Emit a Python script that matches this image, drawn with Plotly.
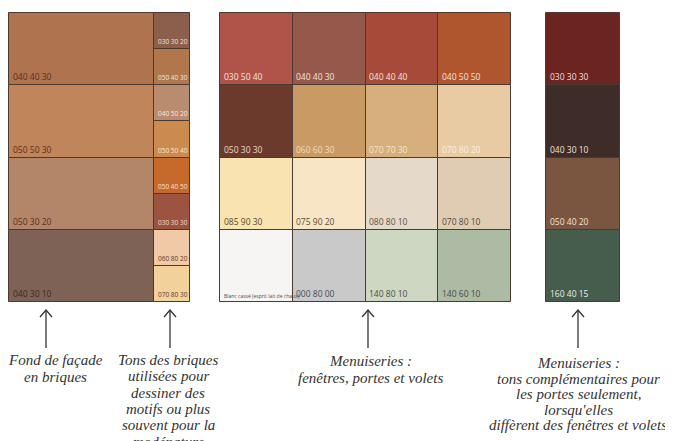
import plotly.graph_objects as go

# Palette data: swatch codes, colours and label colours per column (top to bottom)
facade_codes = ["040 40 30", "050 50 30", "050 30 20", "040 30 10"]
facade_colors = ["#B07350", "#C0855A", "#B3866A", "#7E6256"]
facade_text = ["#5A2E1C", "#5A2E1C", "#5A2E1C", "#3A2A22"]

brick_codes = ["030 30 20", "050 40 30", "040 50 20", "050 50 40",
               "050 40 50", "030 30 30", "060 80 20", "070 80 30"]
brick_colors = ["#8C5E4C", "#B0774C", "#B98C70", "#CC8B4E",
                "#C56A2A", "#9C5340", "#F0C9A6", "#F2D19A"]
brick_text = ["#F2E2D8", "#F7E8D0", "#F7E8DC", "#F9E6C8",
              "#F9E2C8", "#F2DCD0", "#5A4030", "#5A4030"]

joinery_codes = [
    ["030 50 40", "050 30 30", "085 90 30", "Blanc cassé (esprit lait de chaux)"],
    ["040 40 30", "060 60 30", "075 90 20", "000 80 00"],
    ["040 40 40", "070 70 30", "080 80 10", "140 80 10"],
    ["040 50 50", "070 80 20", "070 80 10", "140 60 10"],
]
joinery_colors = [
    ["#B0544A", "#6C3A2C", "#F9E3B0", "#F7F5F4"],
    ["#94594A", "#C99A64", "#F8E5C6", "#C9C9C9"],
    ["#A84A3A", "#D6AF7C", "#E5D9C9", "#CED7C2"],
    ["#B0562E", "#E8CBA2", "#DFCCB2", "#AEBBA4"],
]
joinery_text = [
    ["#F5E2DC", "#EAD8D0", "#5A4A2A", "#4A4A4A"],
    ["#F5E2DC", "#F3DDBE", "#5A4A34", "#4A4A4A"],
    ["#F5E2DC", "#F6E6CC", "#5A5048", "#4A4A4A"],
    ["#F5E2DC", "#FBF0E0", "#5A4A3A", "#4A4A4A"],
]

door_codes = ["030 30 30", "040 30 10", "050 40 20", "160 40 15"]
door_colors = ["#6C2420", "#3E2C28", "#7A5640", "#465C4C"]
door_text = ["#F2DCD8", "#EDE2DE", "#F0E2D8", "#E6EEE8"]

captions = [
    ["Fond de façade", "en briques"],
    ["Tons des briques", "utilisées pour", "dessiner des", "motifs ou plus",
     "souvent pour la", "modénature"],
    ["Menuiseries :", "fenêtres, portes et volets"],
    ["Menuiseries :", "tons complémentaires pour", "les portes seulement,",
     "lorsqu'elles", "diffèrent des fenêtres et volets"],
]

# Layout (axis units = screen pixels; the page body adds an 8px offset)
OFF = 8
TOP, BOTTOM = 13, 302
columns = [
    # left edge, width, codes, colors, text colors, label size
    (9, 145, facade_codes, facade_colors, facade_text, 8.5),
    (154, 36, brick_codes, brick_colors, brick_text, 6.5),
]
for i in range(4):
    columns.append((220 + i * 72.75, 72.75, joinery_codes[i], joinery_colors[i], joinery_text[i], 8.5))
columns.append((546, 74, door_codes, door_colors, door_text, 8.5))

fig = go.Figure()
annotations = []

for left, width, codes, colors, tcolors, fsize in columns:
    n = len(codes)
    h = (BOTTOM - TOP) / n
    bases = [TOP + k * h for k in range(n)]
    fig.add_trace(go.Bar(
        x=[left + width / 2] * n,
        y=[h] * n,
        base=bases,
        width=[width] * n,
        marker=dict(color=colors, line=dict(color="#4A3A32", width=1)),
        hoverinfo="skip",
        showlegend=False,
    ))
    for code, tc, b in zip(codes, tcolors, bases):
        size = 5 if code.startswith("Blanc") else fsize
        annotations.append(dict(
            x=left + 1.5, y=b + h - 1, xref="x", yref="y",
            text=code, showarrow=False, xanchor="left", yanchor="bottom",
            font=dict(family="Open Sans", size=size, color=tc),
        ))

# Arrows and captions
arrow_x = [46, 170, 368, 578]
caption_x = [55, 168, 370, 578]
caption_y = [360, 360, 361, 363]
line_step = [16.5, 16.3, 17, 15.5]
for ax, cx, cy, step, lines in zip(arrow_x, caption_x, caption_y, line_step, captions):
    fig.add_trace(go.Scatter(
        x=[ax, ax, None, ax - 6, ax, ax + 6],
        y=[348, 310, None, 317, 310, 317],
        mode="lines", line=dict(color="#333333", width=1.3),
        hoverinfo="skip", showlegend=False,
    ))
    for k, line in enumerate(lines):
        annotations.append(dict(
            x=cx, y=cy + k * step, xref="x", yref="y", text=f"<i>{line}</i>",
            showarrow=False, xanchor="center", yanchor="middle",
            font=dict(family="Liberation Serif", size=15, color="#333333"),
        ))

fig.update_layout(
    width=673, height=441,
    margin=dict(l=0, r=0, t=0, b=0),
    paper_bgcolor="white", plot_bgcolor="white",
    barmode="overlay", bargap=0,
    xaxis=dict(range=[OFF, 673 + OFF], visible=False, fixedrange=True),
    yaxis=dict(range=[441 + OFF, OFF], visible=False, fixedrange=True),
    annotations=annotations,
)

fig.write_html("out.html")
